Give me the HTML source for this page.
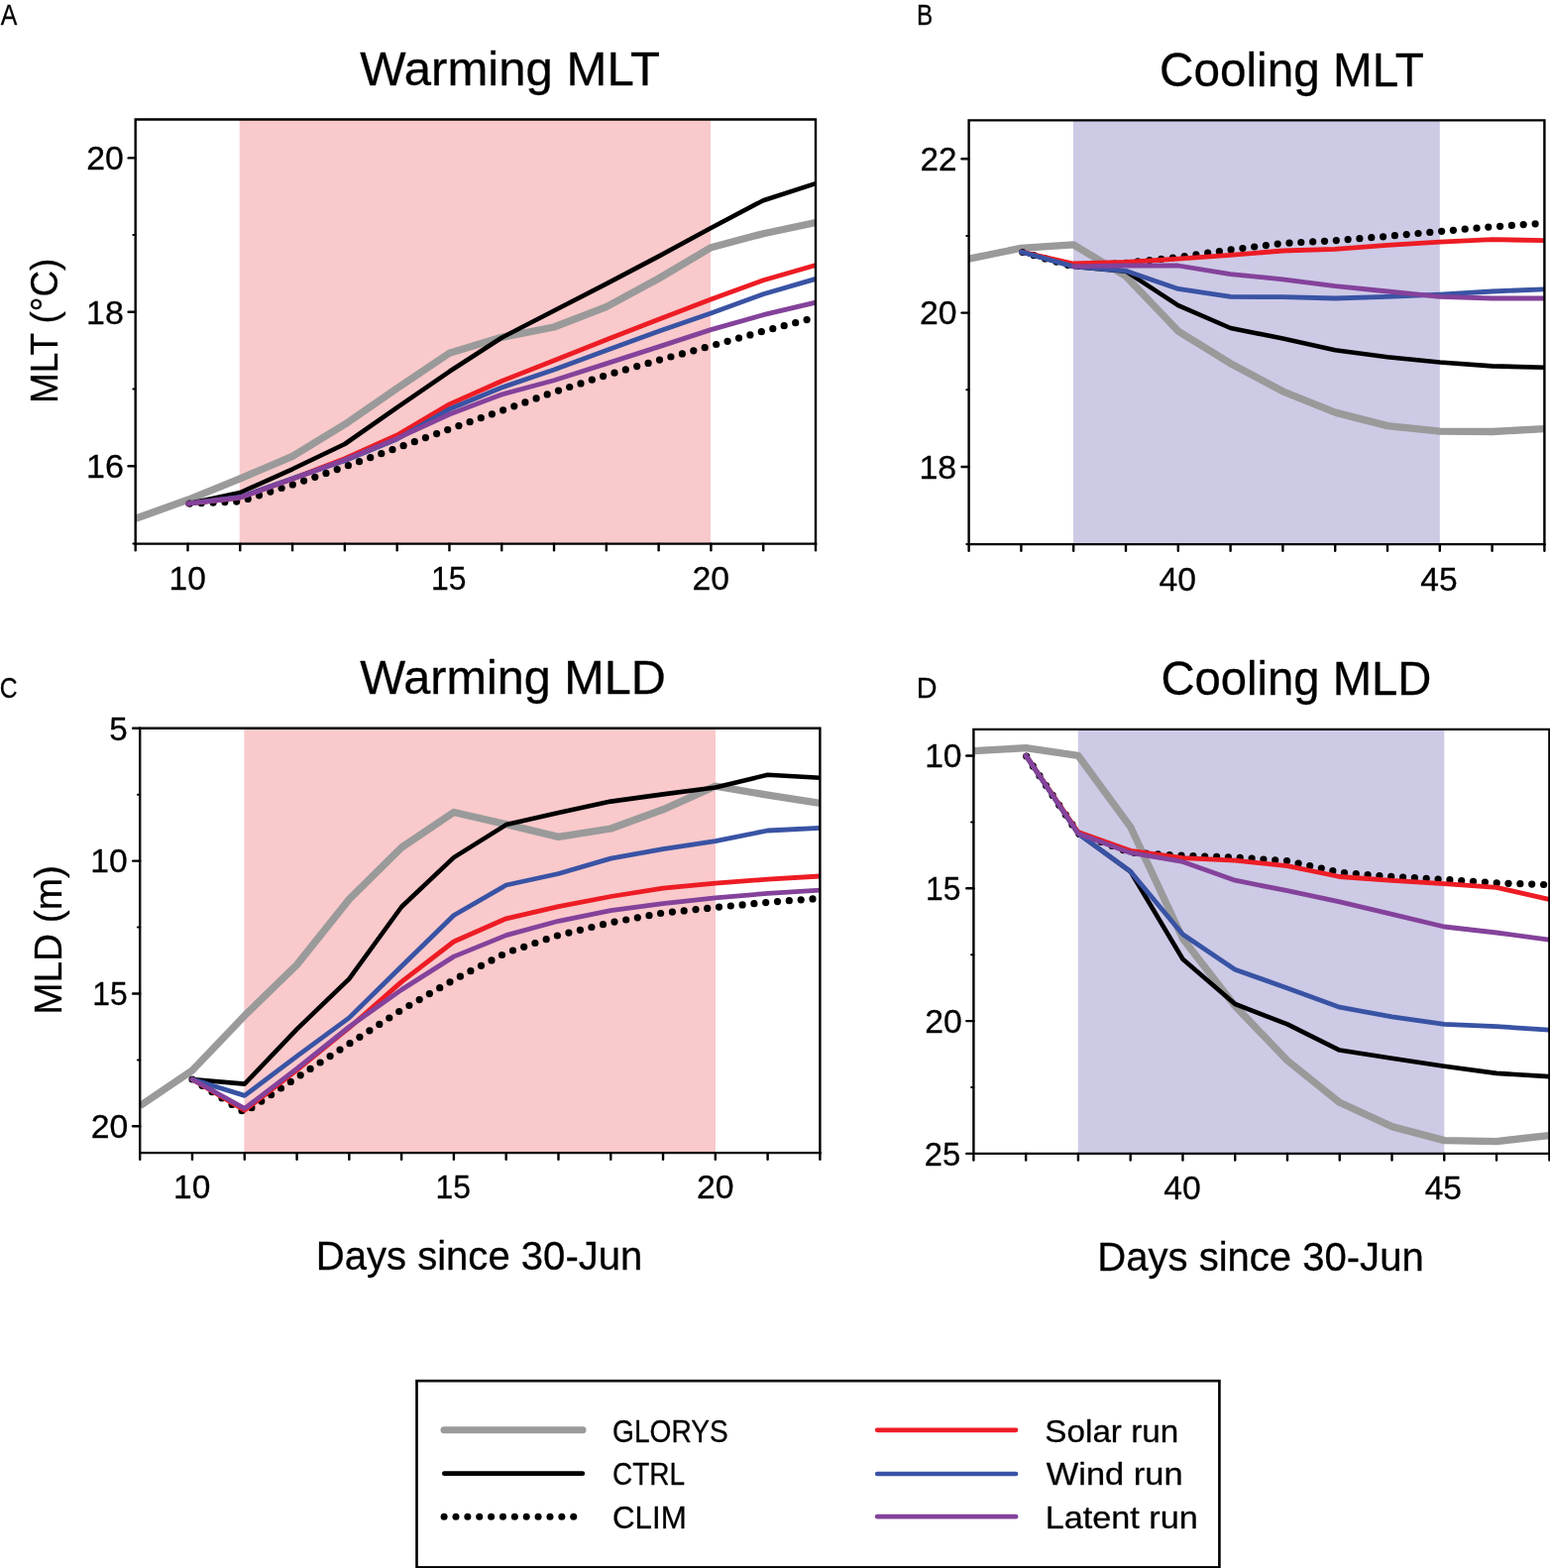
<!DOCTYPE html>
<html lang="en">
<head>
<meta charset="utf-8">
<title>Warming and cooling MLT / MLD</title>
<style>
html,body{margin:0;padding:0;background:#fff;}
body{width:1564px;height:1582px;overflow:hidden;font-family:"Liberation Sans",sans-serif;}
svg{display:block;}
text{font-family:"Liberation Sans",sans-serif;white-space:pre;}
</style>
</head>
<body>
<svg width="1564" height="1582" viewBox="0 0 1564 1582" role="img" aria-label="Warming and cooling mixed layer temperature and depth" font-family="&quot;Liberation Sans&quot;, sans-serif">
<rect width="1564" height="1582" fill="#fff"/>
<clipPath id="clipA"><rect x="136.70" y="120.50" width="686.30" height="428.10"/></clipPath>
<rect x="241.70" y="120.50" width="475.30" height="428.10" fill="#f9c9cb"/>
<g clip-path="url(#clipA)" fill="none" stroke-linejoin="round">
<path d="M136.7,523.2 L189.5,504.3 L242.3,482.9 L295.1,460.3 L347.9,428.2 L400.7,391.7 L453.5,356.2 L506.2,340.3 L559.0,330.0 L611.8,309.6 L664.6,281.0 L717.4,249.7 L770.2,235.7 L823.0,224.6" stroke="#9a9a9a" stroke-width="7.3" stroke-linecap="butt"/>
<path d="M189.5,508.2 L242.3,497.0 L295.1,473.3 L347.9,448.0 L400.7,411.2 L453.5,374.8 L506.2,340.7 L559.0,313.5 L611.8,286.4 L664.6,258.6 L717.4,230.0 L770.2,202.2 L823.0,185.2" stroke="#000000" stroke-width="4.6" stroke-linecap="round"/>
<g fill="#000" stroke="none"><circle cx="191.4" cy="508.1" r="3.6"/><circle cx="203.2" cy="507.6" r="3.6"/><circle cx="215.1" cy="507.1" r="3.6"/><circle cx="226.9" cy="506.6" r="3.6"/><circle cx="238.7" cy="506.1" r="3.6"/><circle cx="250.2" cy="503.4" r="3.6"/><circle cx="261.5" cy="499.8" r="3.6"/><circle cx="272.8" cy="496.1" r="3.6"/><circle cx="284.1" cy="492.5" r="3.6"/><circle cx="295.3" cy="488.9" r="3.6"/><circle cx="306.6" cy="485.1" r="3.6"/><circle cx="317.8" cy="481.3" r="3.6"/><circle cx="329.0" cy="477.4" r="3.6"/><circle cx="340.2" cy="473.6" r="3.6"/><circle cx="351.4" cy="469.7" r="3.6"/><circle cx="362.5" cy="465.7" r="3.6"/><circle cx="373.7" cy="461.7" r="3.6"/><circle cx="384.8" cy="457.7" r="3.6"/><circle cx="396.0" cy="453.7" r="3.6"/><circle cx="407.1" cy="449.7" r="3.6"/><circle cx="418.3" cy="445.7" r="3.6"/><circle cx="429.4" cy="441.6" r="3.6"/><circle cx="440.6" cy="437.6" r="3.6"/><circle cx="451.7" cy="433.6" r="3.6"/><circle cx="462.9" cy="429.6" r="3.6"/><circle cx="474.1" cy="425.7" r="3.6"/><circle cx="485.3" cy="421.7" r="3.6"/><circle cx="496.4" cy="417.8" r="3.6"/><circle cx="507.6" cy="413.8" r="3.6"/><circle cx="518.8" cy="409.8" r="3.6"/><circle cx="529.9" cy="405.9" r="3.6"/><circle cx="541.1" cy="401.9" r="3.6"/><circle cx="552.2" cy="397.9" r="3.6"/><circle cx="563.5" cy="394.1" r="3.6"/><circle cx="574.7" cy="390.5" r="3.6"/><circle cx="586.0" cy="386.9" r="3.6"/><circle cx="597.3" cy="383.2" r="3.6"/><circle cx="608.6" cy="379.6" r="3.6"/><circle cx="620.0" cy="376.2" r="3.6"/><circle cx="631.3" cy="372.9" r="3.6"/><circle cx="642.7" cy="369.6" r="3.6"/><circle cx="654.1" cy="366.4" r="3.6"/><circle cx="665.5" cy="363.1" r="3.6"/><circle cx="676.9" cy="360.0" r="3.6"/><circle cx="688.4" cy="356.9" r="3.6"/><circle cx="699.8" cy="353.8" r="3.6"/><circle cx="711.2" cy="350.7" r="3.6"/><circle cx="722.7" cy="347.5" r="3.6"/><circle cx="734.1" cy="344.3" r="3.6"/><circle cx="745.5" cy="341.1" r="3.6"/><circle cx="756.9" cy="337.9" r="3.6"/><circle cx="768.3" cy="334.7" r="3.6"/><circle cx="779.8" cy="331.7" r="3.6"/><circle cx="791.2" cy="328.7" r="3.6"/><circle cx="802.7" cy="325.7" r="3.6"/><circle cx="814.1" cy="322.6" r="3.6"/></g>
<path d="M189.5,508.2 L242.3,502.0 L295.1,483.0 L347.9,462.8 L400.7,439.0 L453.5,407.9 L506.2,384.5 L559.0,363.8 L611.8,342.8 L664.6,322.2 L717.4,302.1 L770.2,282.8 L823.0,267.6" stroke="#ed1c24" stroke-width="4.8" stroke-linecap="round"/>
<path d="M189.5,508.2 L242.3,501.5 L295.1,482.8 L347.9,464.7 L400.7,443.0 L453.5,412.8 L506.2,391.0 L559.0,373.1 L611.8,353.5 L664.6,334.3 L717.4,315.9 L770.2,296.7 L823.0,281.4" stroke="#3953a4" stroke-width="4.8" stroke-linecap="round"/>
<path d="M189.5,508.2 L242.3,502.0 L295.1,483.2 L347.9,464.0 L400.7,442.4 L453.5,418.0 L506.2,398.1 L559.0,383.7 L611.8,366.9 L664.6,349.9 L717.4,332.6 L770.2,317.7 L823.0,305.2" stroke="#84429b" stroke-width="4.8" stroke-linecap="round"/>
</g>
<g stroke="#000" stroke-width="2.4" fill="none" stroke-linecap="butt">
<path d="M136.70,549.80 V120.50 H823.00 V549.80" stroke-linejoin="miter"/>
<path d="M135.50,548.60 H824.20"/>
<path d="M136.70,548.60 v6.6" stroke-linecap="round"/>
<path d="M189.49,548.60 v6.6" stroke-linecap="round"/>
<path d="M242.28,548.60 v6.6" stroke-linecap="round"/>
<path d="M295.08,548.60 v6.6" stroke-linecap="round"/>
<path d="M347.87,548.60 v6.6" stroke-linecap="round"/>
<path d="M400.66,548.60 v6.6" stroke-linecap="round"/>
<path d="M453.45,548.60 v6.6" stroke-linecap="round"/>
<path d="M506.25,548.60 v6.6" stroke-linecap="round"/>
<path d="M559.04,548.60 v6.6" stroke-linecap="round"/>
<path d="M611.83,548.60 v6.6" stroke-linecap="round"/>
<path d="M664.62,548.60 v6.6" stroke-linecap="round"/>
<path d="M717.42,548.60 v6.6" stroke-linecap="round"/>
<path d="M770.21,548.60 v6.6" stroke-linecap="round"/>
<path d="M823.00,548.60 v6.6" stroke-linecap="round"/>
<path d="M136.70,159.40 h-7.1" stroke-linecap="round" stroke-width="2.4"/>
<path d="M136.70,237.10 h-2.3" stroke-linecap="round" stroke-width="2.0"/>
<path d="M136.70,314.80 h-7.1" stroke-linecap="round" stroke-width="2.4"/>
<path d="M136.70,392.50 h-2.3" stroke-linecap="round" stroke-width="2.0"/>
<path d="M136.70,470.20 h-7.1" stroke-linecap="round" stroke-width="2.4"/>
<path d="M136.70,548.40 h-2.3" stroke-linecap="round" stroke-width="2.0"/>
</g>
<clipPath id="clipB"><rect x="977.60" y="121.40" width="580.80" height="427.70"/></clipPath>
<rect x="1083.00" y="121.40" width="369.80" height="427.70" fill="#cdcae6"/>
<g clip-path="url(#clipB)" fill="none" stroke-linejoin="round">
<path d="M977.6,261.2 L1030.4,250.3 L1083.2,246.9 L1136.0,278.7 L1188.8,334.1 L1241.6,366.7 L1294.4,394.8 L1347.2,416.1 L1400.0,429.6 L1452.8,435.2 L1505.6,435.5 L1558.4,432.6" stroke="#9a9a9a" stroke-width="7.3" stroke-linecap="butt"/>
<path d="M1030.4,254.1 L1083.2,268.9 L1136.0,273.6 L1188.8,308.1 L1241.6,331.0 L1294.4,341.6 L1347.2,353.3 L1400.0,360.2 L1452.8,365.5 L1505.6,369.4 L1558.4,370.7" stroke="#000000" stroke-width="4.6" stroke-linecap="round"/>
<g fill="#000" stroke="none"><circle cx="1031.8" cy="254.5" r="3.6"/><circle cx="1043.2" cy="257.7" r="3.6"/><circle cx="1054.6" cy="260.9" r="3.6"/><circle cx="1066.0" cy="264.1" r="3.6"/><circle cx="1077.4" cy="267.3" r="3.6"/><circle cx="1089.1" cy="268.5" r="3.6"/><circle cx="1100.9" cy="267.7" r="3.6"/><circle cx="1112.7" cy="266.9" r="3.6"/><circle cx="1124.5" cy="266.1" r="3.6"/><circle cx="1136.3" cy="265.3" r="3.6"/><circle cx="1148.1" cy="263.9" r="3.6"/><circle cx="1159.9" cy="262.6" r="3.6"/><circle cx="1171.7" cy="261.3" r="3.6"/><circle cx="1183.4" cy="260.0" r="3.6"/><circle cx="1195.2" cy="258.5" r="3.6"/><circle cx="1206.9" cy="256.9" r="3.6"/><circle cx="1218.7" cy="255.2" r="3.6"/><circle cx="1230.4" cy="253.6" r="3.6"/><circle cx="1242.1" cy="251.9" r="3.6"/><circle cx="1253.9" cy="250.5" r="3.6"/><circle cx="1265.7" cy="249.0" r="3.6"/><circle cx="1277.4" cy="247.6" r="3.6"/><circle cx="1289.2" cy="246.1" r="3.6"/><circle cx="1301.0" cy="245.2" r="3.6"/><circle cx="1312.8" cy="244.5" r="3.6"/><circle cx="1324.7" cy="243.9" r="3.6"/><circle cx="1336.5" cy="243.3" r="3.6"/><circle cx="1348.3" cy="242.6" r="3.6"/><circle cx="1360.1" cy="241.6" r="3.6"/><circle cx="1371.9" cy="240.7" r="3.6"/><circle cx="1383.8" cy="239.7" r="3.6"/><circle cx="1395.6" cy="238.8" r="3.6"/><circle cx="1407.4" cy="237.7" r="3.6"/><circle cx="1419.2" cy="236.6" r="3.6"/><circle cx="1431.0" cy="235.5" r="3.6"/><circle cx="1442.8" cy="234.4" r="3.6"/><circle cx="1454.6" cy="233.3" r="3.6"/><circle cx="1466.4" cy="232.3" r="3.6"/><circle cx="1478.2" cy="231.2" r="3.6"/><circle cx="1490.0" cy="230.2" r="3.6"/><circle cx="1501.8" cy="229.1" r="3.6"/><circle cx="1513.6" cy="228.3" r="3.6"/><circle cx="1525.4" cy="227.4" r="3.6"/><circle cx="1537.2" cy="226.6" r="3.6"/><circle cx="1549.1" cy="225.8" r="3.6"/></g>
<path d="M1030.4,254.1 L1083.2,266.0 L1136.0,264.5 L1188.8,261.2 L1241.6,257.3 L1294.4,253.0 L1347.2,251.3 L1400.0,247.4 L1452.8,244.2 L1505.6,241.6 L1558.4,242.7" stroke="#ed1c24" stroke-width="4.8" stroke-linecap="round"/>
<path d="M1030.4,254.1 L1083.2,268.9 L1136.0,273.3 L1188.8,291.4 L1241.6,299.4 L1294.4,299.7 L1347.2,301.0 L1400.0,299.3 L1452.8,297.2 L1505.6,294.0 L1558.4,291.8" stroke="#3953a4" stroke-width="4.8" stroke-linecap="round"/>
<path d="M1083.2,268.9 L1136.0,268.0 L1188.8,268.0 L1241.6,276.7 L1294.4,281.8 L1347.2,288.6 L1400.0,294.0 L1452.8,299.3 L1505.6,301.0 L1558.4,301.0" stroke="#84429b" stroke-width="4.8" stroke-linecap="round"/>
</g>
<g stroke="#000" stroke-width="2.4" fill="none" stroke-linecap="butt">
<path d="M977.60,550.30 V121.40 H1558.40 V550.30" stroke-linejoin="miter"/>
<path d="M976.40,549.10 H1559.60"/>
<path d="M977.60,549.10 v6.6" stroke-linecap="round"/>
<path d="M1030.40,549.10 v6.6" stroke-linecap="round"/>
<path d="M1083.20,549.10 v6.6" stroke-linecap="round"/>
<path d="M1136.00,549.10 v6.6" stroke-linecap="round"/>
<path d="M1188.80,549.10 v6.6" stroke-linecap="round"/>
<path d="M1241.60,549.10 v6.6" stroke-linecap="round"/>
<path d="M1294.40,549.10 v6.6" stroke-linecap="round"/>
<path d="M1347.20,549.10 v6.6" stroke-linecap="round"/>
<path d="M1400.00,549.10 v6.6" stroke-linecap="round"/>
<path d="M1452.80,549.10 v6.6" stroke-linecap="round"/>
<path d="M1505.60,549.10 v6.6" stroke-linecap="round"/>
<path d="M1558.40,549.10 v6.6" stroke-linecap="round"/>
<path d="M977.60,160.20 h-7.1" stroke-linecap="round" stroke-width="2.4"/>
<path d="M977.60,237.90 h-2.3" stroke-linecap="round" stroke-width="2.0"/>
<path d="M977.60,315.60 h-7.1" stroke-linecap="round" stroke-width="2.4"/>
<path d="M977.60,393.30 h-2.3" stroke-linecap="round" stroke-width="2.0"/>
<path d="M977.60,471.00 h-7.1" stroke-linecap="round" stroke-width="2.4"/>
<path d="M977.60,549.10 h-2.3" stroke-linecap="round" stroke-width="2.0"/>
</g>
<clipPath id="clipC"><rect x="141.20" y="734.80" width="686.20" height="428.30"/></clipPath>
<rect x="246.40" y="734.80" width="475.60" height="428.30" fill="#f9c9cb"/>
<g clip-path="url(#clipC)" fill="none" stroke-linejoin="round">
<path d="M141.2,1115.7 L194.0,1080.0 L246.8,1024.7 L299.6,973.4 L352.3,907.4 L405.1,855.1 L457.9,819.5 L510.7,831.6 L563.5,844.4 L616.3,836.0 L669.0,816.8 L721.8,793.2 L774.6,802.2 L827.4,810.4" stroke="#9a9a9a" stroke-width="7.3" stroke-linecap="butt"/>
<path d="M194.0,1089.0 L246.8,1093.6 L299.6,1038.3 L352.3,987.6 L405.1,915.0 L457.9,865.1 L510.7,832.1 L563.5,820.1 L616.3,808.6 L669.0,801.4 L721.8,794.5 L774.6,781.7 L827.4,784.8" stroke="#000000" stroke-width="4.6" stroke-linecap="round"/>
<g fill="#000" stroke="none"><circle cx="194.0" cy="1089.0" r="3.6"/><circle cx="204.0" cy="1095.3" r="3.6"/><circle cx="214.0" cy="1101.7" r="3.6"/><circle cx="224.0" cy="1108.0" r="3.6"/><circle cx="234.0" cy="1114.4" r="3.6"/><circle cx="244.0" cy="1120.7" r="3.6"/><circle cx="253.9" cy="1117.7" r="3.6"/><circle cx="263.8" cy="1111.1" r="3.6"/><circle cx="273.6" cy="1104.6" r="3.6"/><circle cx="283.5" cy="1098.0" r="3.6"/><circle cx="293.3" cy="1091.4" r="3.6"/><circle cx="303.2" cy="1084.8" r="3.6"/><circle cx="313.1" cy="1078.4" r="3.6"/><circle cx="323.1" cy="1072.0" r="3.6"/><circle cx="333.1" cy="1065.6" r="3.6"/><circle cx="343.0" cy="1059.1" r="3.6"/><circle cx="353.0" cy="1052.7" r="3.6"/><circle cx="362.9" cy="1046.3" r="3.6"/><circle cx="372.9" cy="1039.8" r="3.6"/><circle cx="382.8" cy="1033.4" r="3.6"/><circle cx="392.8" cy="1027.0" r="3.6"/><circle cx="402.7" cy="1020.5" r="3.6"/><circle cx="412.9" cy="1014.5" r="3.6"/><circle cx="423.2" cy="1008.6" r="3.6"/><circle cx="433.4" cy="1002.6" r="3.6"/><circle cx="443.7" cy="996.7" r="3.6"/><circle cx="454.0" cy="990.8" r="3.6"/><circle cx="464.4" cy="985.2" r="3.6"/><circle cx="474.9" cy="979.7" r="3.6"/><circle cx="485.5" cy="974.3" r="3.6"/><circle cx="496.0" cy="968.9" r="3.6"/><circle cx="506.5" cy="963.5" r="3.6"/><circle cx="517.5" cy="959.0" r="3.6"/><circle cx="528.7" cy="955.3" r="3.6"/><circle cx="539.9" cy="951.5" r="3.6"/><circle cx="551.2" cy="947.7" r="3.6"/><circle cx="562.4" cy="944.0" r="3.6"/><circle cx="573.9" cy="941.1" r="3.6"/><circle cx="585.4" cy="938.3" r="3.6"/><circle cx="596.9" cy="935.5" r="3.6"/><circle cx="608.5" cy="932.7" r="3.6"/><circle cx="620.0" cy="930.1" r="3.6"/><circle cx="631.7" cy="928.0" r="3.6"/><circle cx="643.3" cy="925.8" r="3.6"/><circle cx="655.0" cy="923.7" r="3.6"/><circle cx="666.6" cy="921.5" r="3.6"/><circle cx="678.4" cy="920.1" r="3.6"/><circle cx="690.2" cy="918.9" r="3.6"/><circle cx="702.0" cy="917.6" r="3.6"/><circle cx="713.7" cy="916.4" r="3.6"/><circle cx="725.5" cy="915.1" r="3.6"/><circle cx="737.3" cy="914.0" r="3.6"/><circle cx="749.1" cy="912.9" r="3.6"/><circle cx="760.9" cy="911.7" r="3.6"/><circle cx="772.7" cy="910.6" r="3.6"/><circle cx="784.5" cy="909.6" r="3.6"/><circle cx="796.3" cy="908.7" r="3.6"/><circle cx="808.2" cy="907.8" r="3.6"/><circle cx="820.0" cy="906.9" r="3.6"/></g>
<path d="M194.0,1089.0 L246.8,1120.2 L299.6,1079.5 L352.3,1037.0 L405.1,990.6 L457.9,950.0 L510.7,926.8 L563.5,914.7 L616.3,904.5 L669.0,896.1 L721.8,891.2 L774.6,887.1 L827.4,884.0" stroke="#ed1c24" stroke-width="4.8" stroke-linecap="round"/>
<path d="M194.0,1089.0 L246.8,1105.4 L299.6,1065.6 L352.3,1026.9 L405.1,975.0 L457.9,923.5 L510.7,893.0 L563.5,881.5 L616.3,866.1 L669.0,856.7 L721.8,848.7 L774.6,838.0 L827.4,835.4" stroke="#3953a4" stroke-width="4.8" stroke-linecap="round"/>
<path d="M194.0,1089.0 L246.8,1118.4 L299.6,1078.1 L352.3,1036.0 L405.1,998.6 L457.9,965.1 L510.7,943.6 L563.5,929.3 L616.3,918.6 L669.0,911.7 L721.8,905.8 L774.6,901.4 L827.4,898.1" stroke="#84429b" stroke-width="4.8" stroke-linecap="round"/>
</g>
<g stroke="#000" stroke-width="2.4" fill="none" stroke-linecap="butt">
<path d="M141.20,1164.30 V734.80 H827.40 V1164.30" stroke-linejoin="miter"/>
<path d="M140.00,1163.10 H828.60"/>
<path d="M141.20,1163.10 v6.6" stroke-linecap="round"/>
<path d="M193.98,1163.10 v6.6" stroke-linecap="round"/>
<path d="M246.77,1163.10 v6.6" stroke-linecap="round"/>
<path d="M299.55,1163.10 v6.6" stroke-linecap="round"/>
<path d="M352.34,1163.10 v6.6" stroke-linecap="round"/>
<path d="M405.12,1163.10 v6.6" stroke-linecap="round"/>
<path d="M457.91,1163.10 v6.6" stroke-linecap="round"/>
<path d="M510.69,1163.10 v6.6" stroke-linecap="round"/>
<path d="M563.48,1163.10 v6.6" stroke-linecap="round"/>
<path d="M616.26,1163.10 v6.6" stroke-linecap="round"/>
<path d="M669.05,1163.10 v6.6" stroke-linecap="round"/>
<path d="M721.83,1163.10 v6.6" stroke-linecap="round"/>
<path d="M774.62,1163.10 v6.6" stroke-linecap="round"/>
<path d="M827.40,1163.10 v6.6" stroke-linecap="round"/>
<path d="M141.20,734.80 h-7.1" stroke-linecap="round" stroke-width="2.4"/>
<path d="M141.20,801.70 h-2.3" stroke-linecap="round" stroke-width="2.0"/>
<path d="M141.20,868.60 h-7.1" stroke-linecap="round" stroke-width="2.4"/>
<path d="M141.20,935.60 h-2.3" stroke-linecap="round" stroke-width="2.0"/>
<path d="M141.20,1002.50 h-7.1" stroke-linecap="round" stroke-width="2.4"/>
<path d="M141.20,1069.40 h-2.3" stroke-linecap="round" stroke-width="2.0"/>
<path d="M141.20,1136.30 h-7.1" stroke-linecap="round" stroke-width="2.4"/>
</g>
<clipPath id="clipD"><rect x="982.40" y="735.90" width="581.00" height="428.00"/></clipPath>
<rect x="1087.80" y="735.90" width="369.50" height="428.00" fill="#cdcae6"/>
<g clip-path="url(#clipD)" fill="none" stroke-linejoin="round">
<path d="M982.4,757.7 L1035.2,754.6 L1087.9,762.3 L1140.7,834.3 L1193.5,947.0 L1246.2,1015.0 L1299.0,1070.0 L1351.7,1112.3 L1404.5,1136.6 L1457.3,1150.6 L1510.0,1151.6 L1562.8,1145.6" stroke="#9a9a9a" stroke-width="7.3" stroke-linecap="butt"/>
<path d="M1035.2,762.3 L1087.9,841.0 L1140.7,879.3 L1193.5,967.8 L1246.2,1013.0 L1299.0,1033.4 L1351.7,1059.6 L1404.5,1067.8 L1457.3,1075.8 L1510.0,1082.9 L1562.8,1086.1" stroke="#000000" stroke-width="4.6" stroke-linecap="round"/>
<g fill="#000" stroke="none"><circle cx="1035.7" cy="763.0" r="3.6"/><circle cx="1042.3" cy="772.9" r="3.6"/><circle cx="1048.9" cy="782.7" r="3.6"/><circle cx="1055.5" cy="792.6" r="3.6"/><circle cx="1062.1" cy="802.4" r="3.6"/><circle cx="1068.7" cy="812.3" r="3.6"/><circle cx="1075.3" cy="822.1" r="3.6"/><circle cx="1081.9" cy="831.9" r="3.6"/><circle cx="1088.8" cy="841.3" r="3.6"/><circle cx="1099.9" cy="845.4" r="3.6"/><circle cx="1111.1" cy="849.5" r="3.6"/><circle cx="1122.2" cy="853.5" r="3.6"/><circle cx="1133.3" cy="857.6" r="3.6"/><circle cx="1144.7" cy="860.5" r="3.6"/><circle cx="1156.5" cy="861.2" r="3.6"/><circle cx="1168.4" cy="861.9" r="3.6"/><circle cx="1180.2" cy="862.5" r="3.6"/><circle cx="1192.0" cy="863.2" r="3.6"/><circle cx="1203.9" cy="863.6" r="3.6"/><circle cx="1215.7" cy="864.0" r="3.6"/><circle cx="1227.6" cy="864.4" r="3.6"/><circle cx="1239.4" cy="864.8" r="3.6"/><circle cx="1251.2" cy="865.3" r="3.6"/><circle cx="1263.1" cy="866.1" r="3.6"/><circle cx="1274.9" cy="867.0" r="3.6"/><circle cx="1286.7" cy="867.8" r="3.6"/><circle cx="1298.5" cy="868.6" r="3.6"/><circle cx="1310.1" cy="871.0" r="3.6"/><circle cx="1321.7" cy="873.6" r="3.6"/><circle cx="1333.3" cy="876.1" r="3.6"/><circle cx="1344.8" cy="878.7" r="3.6"/><circle cx="1356.5" cy="880.6" r="3.6"/><circle cx="1368.3" cy="881.5" r="3.6"/><circle cx="1380.1" cy="882.5" r="3.6"/><circle cx="1391.9" cy="883.5" r="3.6"/><circle cx="1403.7" cy="884.4" r="3.6"/><circle cx="1415.6" cy="885.1" r="3.6"/><circle cx="1427.4" cy="885.7" r="3.6"/><circle cx="1439.2" cy="886.3" r="3.6"/><circle cx="1451.1" cy="887.0" r="3.6"/><circle cx="1462.9" cy="887.7" r="3.6"/><circle cx="1474.7" cy="888.5" r="3.6"/><circle cx="1486.5" cy="889.3" r="3.6"/><circle cx="1498.4" cy="890.1" r="3.6"/><circle cx="1510.2" cy="890.9" r="3.6"/><circle cx="1522.0" cy="891.3" r="3.6"/><circle cx="1533.9" cy="891.7" r="3.6"/><circle cx="1545.7" cy="892.1" r="3.6"/><circle cx="1557.6" cy="892.5" r="3.6"/></g>
<path d="M1035.2,762.3 L1087.9,839.5 L1140.7,858.3 L1193.5,865.6 L1246.2,868.1 L1299.0,873.7 L1351.7,884.5 L1404.5,888.4 L1457.3,891.6 L1510.0,895.4 L1562.8,907.3" stroke="#ed1c24" stroke-width="4.8" stroke-linecap="round"/>
<path d="M1035.2,762.3 L1087.9,841.0 L1140.7,879.2 L1193.5,942.8 L1246.2,978.2 L1299.0,996.9 L1351.7,1016.2 L1404.5,1025.9 L1457.3,1033.4 L1510.0,1035.6 L1562.8,1039.2" stroke="#3953a4" stroke-width="4.8" stroke-linecap="round"/>
<path d="M1035.2,762.3 L1087.9,841.0 L1140.7,860.4 L1193.5,869.4 L1246.2,888.2 L1299.0,898.7 L1351.7,909.8 L1404.5,922.3 L1457.3,935.0 L1510.0,941.0 L1562.8,948.1" stroke="#84429b" stroke-width="4.8" stroke-linecap="round"/>
</g>
<g stroke="#000" stroke-width="2.4" fill="none" stroke-linecap="butt">
<path d="M982.40,1165.10 V735.90 H1563.40 V1165.10" stroke-linejoin="miter"/>
<path d="M981.20,1163.90 H1564.60"/>
<path d="M982.40,1163.90 v6.6" stroke-linecap="round"/>
<path d="M1035.16,1163.90 v6.6" stroke-linecap="round"/>
<path d="M1087.93,1163.90 v6.6" stroke-linecap="round"/>
<path d="M1140.69,1163.90 v6.6" stroke-linecap="round"/>
<path d="M1193.45,1163.90 v6.6" stroke-linecap="round"/>
<path d="M1246.22,1163.90 v6.6" stroke-linecap="round"/>
<path d="M1298.98,1163.90 v6.6" stroke-linecap="round"/>
<path d="M1351.75,1163.90 v6.6" stroke-linecap="round"/>
<path d="M1404.51,1163.90 v6.6" stroke-linecap="round"/>
<path d="M1457.27,1163.90 v6.6" stroke-linecap="round"/>
<path d="M1510.04,1163.90 v6.6" stroke-linecap="round"/>
<path d="M1563.40,1163.90 v6.6" stroke-linecap="round"/>
<path d="M982.40,762.50 h-7.1" stroke-linecap="round" stroke-width="2.4"/>
<path d="M982.40,829.40 h-2.3" stroke-linecap="round" stroke-width="2.0"/>
<path d="M982.40,896.30 h-7.1" stroke-linecap="round" stroke-width="2.4"/>
<path d="M982.40,963.20 h-2.3" stroke-linecap="round" stroke-width="2.0"/>
<path d="M982.40,1030.10 h-7.1" stroke-linecap="round" stroke-width="2.4"/>
<path d="M982.40,1097.00 h-2.3" stroke-linecap="round" stroke-width="2.0"/>
<path d="M982.40,1163.90 h-7.1" stroke-linecap="round" stroke-width="2.4"/>
</g>
<text transform="translate(0.85,24.50) scale(0.8569,1)" font-size="29" fill="#000" stroke="#000" stroke-width="0.3" stroke-linejoin="round">A</text>
<text transform="translate(925.10,24.60) scale(0.8361,1)" font-size="29" fill="#000" stroke="#000" stroke-width="0.3" stroke-linejoin="round">B</text>
<text transform="translate(-0.30,704.00) scale(0.8524,1)" font-size="29" fill="#000" stroke="#000" stroke-width="0.3" stroke-linejoin="round">C</text>
<text transform="translate(924.73,704.00) scale(0.9922,1)" font-size="29" fill="#000" stroke="#000" stroke-width="0.3" stroke-linejoin="round">D</text>
<text transform="translate(363.31,85.70) scale(1.0228,1)" font-size="48" fill="#000" stroke="#000" stroke-width="0.3" stroke-linejoin="round">Warming MLT</text>
<text transform="translate(1170.05,87.00) scale(0.9936,1)" font-size="48" fill="#000" stroke="#000" stroke-width="0.3" stroke-linejoin="round">Cooling MLT</text>
<text transform="translate(363.31,700.20) scale(1.0123,1)" font-size="48" fill="#000" stroke="#000" stroke-width="0.3" stroke-linejoin="round">Warming MLD</text>
<text transform="translate(1171.47,700.70) scale(0.9842,1)" font-size="48" fill="#000" stroke="#000" stroke-width="0.3" stroke-linejoin="round">Cooling MLD</text>
<text transform="translate(318.70,1280.90) scale(0.9778,1)" font-size="41" fill="#000" stroke="#000" stroke-width="0.3" stroke-linejoin="round">Days since 30-Jun</text>
<text transform="translate(1107.31,1281.60) scale(0.9769,1)" font-size="41" fill="#000" stroke="#000" stroke-width="0.3" stroke-linejoin="round">Days since 30-Jun</text>
<text transform="translate(618.05,1454.70) scale(0.8798,1)" font-size="32" fill="#000" stroke="#000" stroke-width="0.3" stroke-linejoin="round">GLORYS</text>
<text transform="translate(618.07,1498.40) scale(0.8733,1)" font-size="32" fill="#000" stroke="#000" stroke-width="0.3" stroke-linejoin="round">CTRL</text>
<text transform="translate(617.90,1541.90) scale(0.9788,1)" font-size="32" fill="#000" stroke="#000" stroke-width="0.3" stroke-linejoin="round">CLIM</text>
<text transform="translate(1054.37,1454.70) scale(1.0386,1)" font-size="32" fill="#000" stroke="#000" stroke-width="0.3" stroke-linejoin="round">Solar run</text>
<text transform="translate(1055.87,1498.40) scale(1.0752,1)" font-size="32" fill="#000" stroke="#000" stroke-width="0.3" stroke-linejoin="round">Wind run</text>
<text transform="translate(1054.69,1541.90) scale(1.0701,1)" font-size="32" fill="#000" stroke="#000" stroke-width="0.3" stroke-linejoin="round">Latent run</text>
<text transform="translate(170.62,595.00) scale(1.0165,1)" font-size="33" fill="#000" stroke="#000" stroke-width="0.3" stroke-linejoin="round">10</text>
<text transform="translate(175.11,1209.00) scale(1.0165,1)" font-size="33" fill="#000" stroke="#000" stroke-width="0.3" stroke-linejoin="round">10</text>
<text transform="translate(435.00,595.00) scale(0.9653,1)" font-size="33" fill="#000" stroke="#000" stroke-width="0.3" stroke-linejoin="round">15</text>
<text transform="translate(439.44,1209.00) scale(0.9653,1)" font-size="33" fill="#000" stroke="#000" stroke-width="0.3" stroke-linejoin="round">15</text>
<text transform="translate(698.49,595.00) scale(1.0230,1)" font-size="33" fill="#000" stroke="#000" stroke-width="0.3" stroke-linejoin="round">20</text>
<text transform="translate(702.88,1209.00) scale(1.0230,1)" font-size="33" fill="#000" stroke="#000" stroke-width="0.3" stroke-linejoin="round">20</text>
<text transform="translate(1169.53,595.60) scale(1.0221,1)" font-size="33" fill="#000" stroke="#000" stroke-width="0.3" stroke-linejoin="round">40</text>
<text transform="translate(1174.17,1210.00) scale(1.0221,1)" font-size="33" fill="#000" stroke="#000" stroke-width="0.3" stroke-linejoin="round">40</text>
<text transform="translate(1433.24,595.60) scale(1.0172,1)" font-size="33" fill="#000" stroke="#000" stroke-width="0.3" stroke-linejoin="round">45</text>
<text transform="translate(1437.68,1210.00) scale(1.0172,1)" font-size="33" fill="#000" stroke="#000" stroke-width="0.3" stroke-linejoin="round">45</text>
<text transform="translate(87.20,171.20) scale(1.0230,1)" font-size="33" fill="#000" stroke="#000" stroke-width="0.3" stroke-linejoin="round">20</text>
<text transform="translate(87.10,326.60) scale(1.0308,1)" font-size="33" fill="#000" stroke="#000" stroke-width="0.3" stroke-linejoin="round">18</text>
<text transform="translate(87.09,482.00) scale(1.0323,1)" font-size="33" fill="#000" stroke="#000" stroke-width="0.3" stroke-linejoin="round">16</text>
<text transform="translate(928.43,172.00) scale(1.0071,1)" font-size="33" fill="#000" stroke="#000" stroke-width="0.3" stroke-linejoin="round">22</text>
<text transform="translate(928.10,327.40) scale(1.0230,1)" font-size="33" fill="#000" stroke="#000" stroke-width="0.3" stroke-linejoin="round">20</text>
<text transform="translate(927.40,482.80) scale(1.0308,1)" font-size="33" fill="#000" stroke="#000" stroke-width="0.3" stroke-linejoin="round">18</text>
<text transform="translate(110.19,746.60) scale(1.0074,1)" font-size="33" fill="#000" stroke="#000" stroke-width="0.3" stroke-linejoin="round">5</text>
<text transform="translate(91.23,880.40) scale(1.0195,1)" font-size="33" fill="#000" stroke="#000" stroke-width="0.3" stroke-linejoin="round">10</text>
<text transform="translate(93.26,1014.30) scale(0.9653,1)" font-size="33" fill="#000" stroke="#000" stroke-width="0.3" stroke-linejoin="round">15</text>
<text transform="translate(91.80,1148.10) scale(1.0230,1)" font-size="33" fill="#000" stroke="#000" stroke-width="0.3" stroke-linejoin="round">20</text>
<text transform="translate(933.13,774.30) scale(1.0195,1)" font-size="33" fill="#000" stroke="#000" stroke-width="0.3" stroke-linejoin="round">10</text>
<text transform="translate(934.06,908.10) scale(0.9653,1)" font-size="33" fill="#000" stroke="#000" stroke-width="0.3" stroke-linejoin="round">15</text>
<text transform="translate(933.20,1041.90) scale(1.0230,1)" font-size="33" fill="#000" stroke="#000" stroke-width="0.3" stroke-linejoin="round">20</text>
<text transform="translate(932.85,1175.70) scale(0.9941,1)" font-size="33" fill="#000" stroke="#000" stroke-width="0.3" stroke-linejoin="round">25</text>
<text transform="rotate(-90) translate(-407.05,57.60) scale(0.9452,1)" font-size="39" fill="#000" stroke="#000" stroke-width="0.3" stroke-linejoin="round">MLT (°C)</text>
<text transform="rotate(-90) translate(-1023.70,62.30) scale(0.9935,1)" font-size="39" fill="#000" stroke="#000" stroke-width="0.3" stroke-linejoin="round">MLD (m)</text>
<rect x="420.5" y="1393.2" width="809.9000000000001" height="188.20000000000005" fill="none" stroke="#000" stroke-width="2.6"/>
<path d="M448.0,1442.8 H588.0" stroke="#9a9a9a" stroke-width="7.0" stroke-linecap="round" fill="none"/>
<path d="M448.3,1486.7 H587.8" stroke="#000000" stroke-width="4.7" stroke-linecap="round" fill="none"/>
<g fill="#000" stroke="none"><circle cx="448.10" cy="1530.3" r="3.5"/><circle cx="459.97" cy="1530.3" r="3.5"/><circle cx="471.85" cy="1530.3" r="3.5"/><circle cx="483.72" cy="1530.3" r="3.5"/><circle cx="495.59" cy="1530.3" r="3.5"/><circle cx="507.46" cy="1530.3" r="3.5"/><circle cx="519.34" cy="1530.3" r="3.5"/><circle cx="531.21" cy="1530.3" r="3.5"/><circle cx="543.08" cy="1530.3" r="3.5"/><circle cx="554.95" cy="1530.3" r="3.5"/><circle cx="566.83" cy="1530.3" r="3.5"/><circle cx="578.70" cy="1530.3" r="3.5"/></g>
<path d="M885.2,1442.8 H1025.0" stroke="#ed1c24" stroke-width="4.7" stroke-linecap="round" fill="none"/>
<path d="M885.2,1487.0 H1025.0" stroke="#3953a4" stroke-width="4.7" stroke-linecap="round" fill="none"/>
<path d="M885.2,1530.2 H1025.0" stroke="#84429b" stroke-width="4.7" stroke-linecap="round" fill="none"/>
</svg>
</body>
</html>
